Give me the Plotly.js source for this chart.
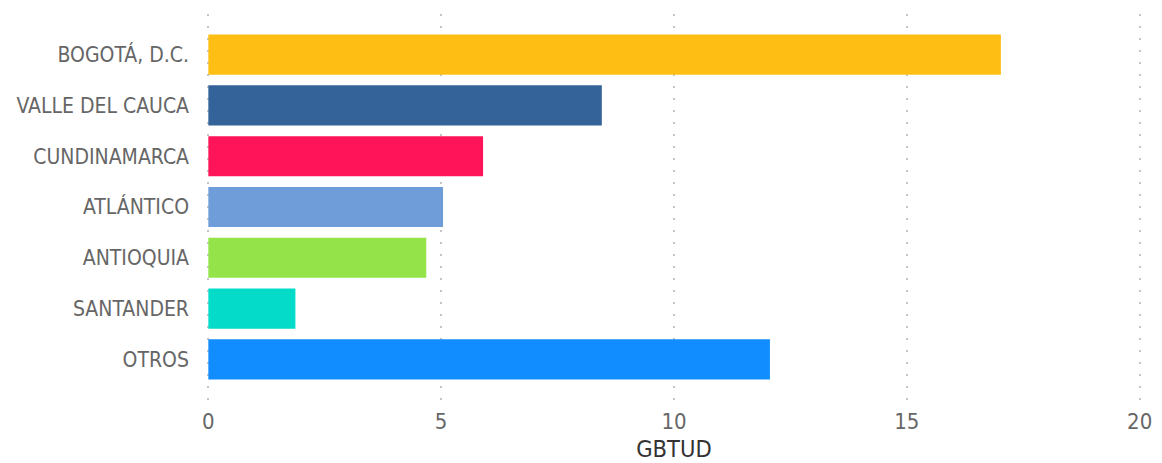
<!DOCTYPE html>
<html>
<head>
<meta charset="utf-8">
<script src="https://cdn.plot.ly/plotly-3.0.1.min.js"></script>
<style>html,body{margin:0;padding:0;background:#fff;}#chart{width:1162px;height:463px;}</style>
</head>
<body>
<div id="chart"></div>
<script>
const categories = ["BOGOTÁ, D.C.", "VALLE DEL CAUCA", "CUNDINAMARCA", "ATLÁNTICO", "ANTIOQUIA", "SANTANDER", "OTROS"];
const values = [17.02, 8.45, 5.90, 5.04, 4.68, 1.87, 12.06];
const barColors = ["#FFBE14", "#336399", "#FF1459", "#6F9DD9", "#93E349", "#05DBC9", "#128DFF"];
const xTickValues = [0, 5, 10, 15, 20];

const trace = {
  type: "bar",
  orientation: "h",
  y: categories,
  x: values,
  marker: {color: barColors},
  hoverinfo: "x+y"
};

const layout = {
  width: 1162,
  height: 463,
  margin: {l: 206, r: 20, t: 14, b: 63},
  paper_bgcolor: "#fff",
  plot_bgcolor: "#fff",
  showlegend: false,
  bargap: 0.21,
  font: {family: "DejaVu Sans Condensed, DejaVu Sans, sans-serif", color: "#666"},
  xaxis: {
    range: [-0.05, 20.05],
    tickvals: xTickValues,
    showgrid: true,
    gridcolor: "#c4c4c4",
    gridwidth: 1.5,
    griddash: "1.5px,10.5px",
    zeroline: false,
    showline: false,
    ticks: "",
    tickfont: {size: 22, color: "#666"},
    ticklabelstandoff: 6,
    title: {text: "GBTUD", font: {size: 23.5, color: "#333"}, standoff: 10}
  },
  yaxis: {
    type: "category",
    autorange: false,
    range: [6.8, -0.8],
    showgrid: false,
    zeroline: false,
    showline: false,
    ticks: "",
    ticklabelstandoff: 16,
    tickfont: {size: 21, color: "#666"}
  }
};

Plotly.newPlot("chart", [trace], layout, {displayModeBar: false, staticPlot: false});
</script>
</body>
</html>
